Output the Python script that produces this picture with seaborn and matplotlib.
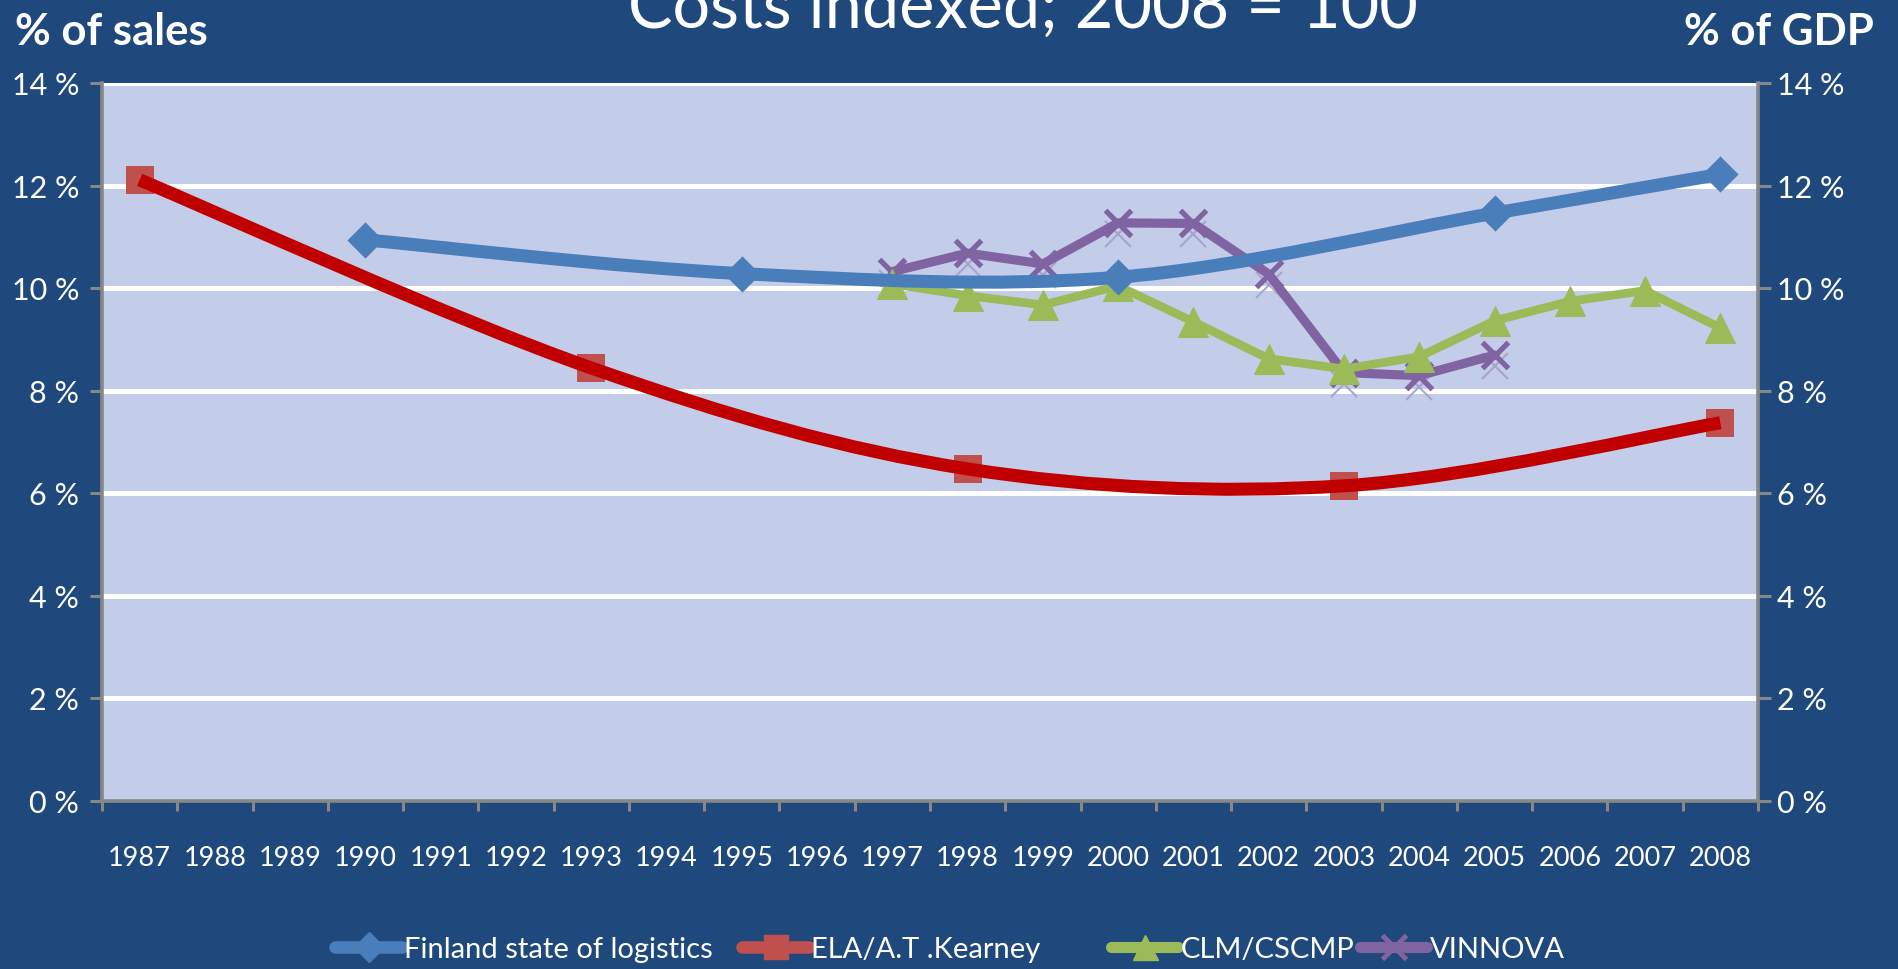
import matplotlib
matplotlib.use("Agg")
import matplotlib.pyplot as plt
import matplotlib.ticker as mticker
from matplotlib.path import Path
from matplotlib.patches import PathPatch
from matplotlib.lines import Line2D
from matplotlib.transforms import offset_copy
import numpy as np
import pandas as pd
import seaborn as sns

# datos
years = list(range(1987, 2009))

fin_years = [1990, 1995, 2000, 2005, 2008]
fin_vals = [10.94, 10.28, 10.21, 11.46, 12.22]

ela_years = [1987, 1993, 1998, 2003, 2008]
ela_vals = [12.11, 8.44, 6.47, 6.14, 7.37]

clm_years = [1997, 1998, 1999, 2000, 2001, 2002, 2003, 2004, 2005, 2006, 2007, 2008]
clm_vals = [10.08, 9.85, 9.67, 10.04, 9.34, 8.62, 8.42, 8.66, 9.36, 9.74, 9.95, 9.22]

vin_years = [1997, 1998, 1999, 2000, 2001, 2002, 2003, 2004, 2005]
vin_vals = [10.32, 10.68, 10.47, 11.27, 11.26, 10.27, 8.35, 8.29, 8.69]

y_ticks = [0, 2, 4, 6, 8, 10, 12, 14]

series_names = ["Finland state of logistics", "ELA/A.T .Kearney", "CLM/CSCMP", "VINNOVA"]

BG = "#1F497D"
PLOT_BG = "#C3CCE8"
C_FIN = "#4A7EBB"
C_ELA_LINE = "#C00000"
C_ELA_MK = "#C0504D"
C_CLM = "#9BBB59"
C_VIN = "#8064A2"
GRIS = "#878787"

sns.set_theme(style="white")
plt.rcParams["font.family"] = ["Lato", "DejaVu Sans"]


def linea_suave(ax, xs, ys, color, lw, z):
    # curva suavizada tipo Excel (bezier cubica por tramos)
    pts = np.column_stack([xs, ys]).astype(float)
    verts = [pts[0]]
    codes = [Path.MOVETO]
    n = len(pts)
    for i in range(n - 1):
        p0 = pts[i - 1] if i > 0 else pts[i]
        p1 = pts[i]
        p2 = pts[i + 1]
        p3 = pts[i + 2] if i + 2 < n else pts[i + 1]
        verts += [p1 + (p2 - p0) / 6.0, p2 - (p3 - p1) / 6.0, p2]
        codes += [Path.CURVE4] * 3
    patch = PathPatch(Path(verts, codes), facecolor="none", edgecolor=color,
                      lw=lw, capstyle="butt", joinstyle="round", zorder=z)
    ax.add_patch(patch)


fig = plt.figure(figsize=(18.98, 9.70), dpi=100, facecolor=BG)
ax = fig.add_axes([102 / 1898, 1 - 801.5 / 970, (1758 - 102) / 1898, (801.5 - 84) / 970])
ax.set_facecolor(PLOT_BG)

# cuadricula
for v in y_ticks[1:]:
    ax.axhline(v, color="white", lw=3.6, zorder=1)

# ELA: marcadores + curva
df_ela = pd.DataFrame({"anio": ela_years, "valor": ela_vals})
sns.scatterplot(data=df_ela, x="anio", y="valor", marker="s", s=400, color=C_ELA_MK,
                edgecolor=C_ELA_MK, linewidth=0, ax=ax, zorder=3, legend=False)
linea_suave(ax, ela_years, ela_vals, C_ELA_LINE, 9.4, 4)

# VINNOVA
df_vin = pd.DataFrame({"anio": vin_years, "valor": vin_vals})
ghost = offset_copy(ax.transData, fig=fig, x=0, y=-11, units="dots")
ax.plot(vin_years, vin_vals, linestyle="none", marker="x", ms=19, mew=1.5,
        color="#A39DC6", alpha=0.85, transform=ghost, zorder=4)
sns.lineplot(data=df_vin, x="anio", y="valor", color=C_VIN, lw=6.6, marker="x", ms=19,
             mew=3.8, mec=C_VIN, ax=ax, zorder=5, legend=False)

# CLM/CSCMP
df_clm = pd.DataFrame({"anio": clm_years, "valor": clm_vals})
sns.lineplot(data=df_clm, x="anio", y="valor", color=C_CLM, lw=6.2, marker="^", ms=21,
             mec=C_CLM, ax=ax, zorder=6, legend=False)

# Finland: curva suave + rombos
linea_suave(ax, fin_years, fin_vals, C_FIN, 9.4, 7)
df_fin = pd.DataFrame({"anio": fin_years, "valor": fin_vals})
sns.scatterplot(data=df_fin, x="anio", y="valor", marker="D", s=340, color=C_FIN,
                edgecolor=C_FIN, linewidth=0, ax=ax, zorder=8, legend=False)

ax.set_xlim(years[0] - 0.5, years[-1] + 0.5)
ax.set_ylim(0, 14)
ax.set_xlabel("")
ax.set_ylabel("")

ax.set_xticks(years)
ax.set_xticklabels([str(a) for a in years])
ax.xaxis.set_minor_locator(mticker.FixedLocator(np.arange(years[0] - 0.5, years[-1] + 1, 1.0)))
ax.tick_params(axis="x", which="major", length=0, pad=32, labelsize=19.5, labelcolor="white")
ax.tick_params(axis="x", which="minor", length=7.5, width=2.2, color=GRIS, bottom=True)

ax.set_yticks(y_ticks)
ax.set_yticklabels([f"{v} %" for v in y_ticks])
ax.tick_params(axis="y", which="major", length=8.5, width=2.2, color=GRIS, pad=8,
               labelsize=22, labelcolor="white", left=True)

for lado in ["left", "bottom", "right"]:
    ax.spines[lado].set_visible(True)
    ax.spines[lado].set_color(GRIS)
    ax.spines[lado].set_linewidth(2.6)
ax.spines["top"].set_visible(False)

ax2 = ax.twinx()
ax2.set_ylim(0, 14)
ax2.set_yticks(y_ticks)
ax2.set_yticklabels([f"{v} %" for v in y_ticks])
ax2.tick_params(axis="y", length=9, width=2.2, color=GRIS, pad=5, labelsize=22,
                labelcolor="white", right=True)
for lado in ["left", "bottom", "right", "top"]:
    ax2.spines[lado].set_visible(False)
ax2.grid(False)
ax.grid(False)

# textos
fig.text(1023 / 1898, 1 - 28 / 970, "Costs indexed; 2008 = 100", ha="center", va="baseline",
         fontsize=48, color="white")
fig.text(15 / 1898, 1 - 45 / 970, "% of sales", ha="left", va="baseline",
         fontsize=31.5, fontweight="bold", color="white")
fig.text(1874 / 1898, 1 - 45 / 970, "% of GDP", ha="right", va="baseline",
         fontsize=31.5, fontweight="bold", color="white")

# leyenda (una por entrada para respetar posiciones)
handles = [
    Line2D([], [], color=C_FIN, lw=9, marker="D", ms=15, mec=C_FIN),
    Line2D([], [], color=C_ELA_MK, lw=9, marker="s", ms=17, mec=C_ELA_MK),
    Line2D([], [], color=C_CLM, lw=8, marker="^", ms=18, mec=C_CLM),
    Line2D([], [], color=C_VIN, lw=8, marker="x", ms=17, mew=3.5, mec=C_VIN),
]
leg_x = [335, 742, 1111, 1360]
for h, nombre, x0 in zip(handles, series_names, leg_x):
    lg = fig.legend(handles=[h], labels=[nombre], loc="center left",
                    bbox_to_anchor=(x0 / 1898, 1 - 950 / 970), frameon=False,
                    fontsize=21, handlelength=2.3, handletextpad=0.08, borderpad=0,
                    borderaxespad=0)
    for t in lg.get_texts():
        t.set_color("white")

fig.savefig("out.png", dpi=100, facecolor=BG)
